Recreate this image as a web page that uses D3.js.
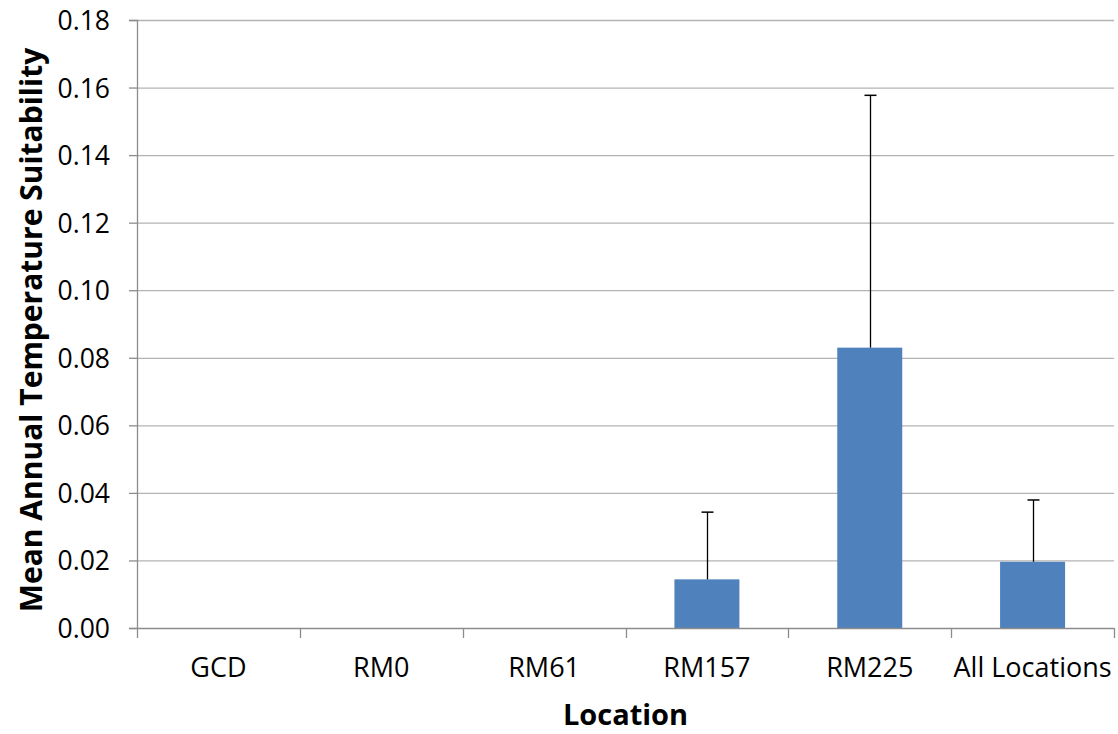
<!DOCTYPE html>
<html><head><meta charset="utf-8">
<script src="https://cdn.jsdelivr.net/npm/d3@7/dist/d3.min.js"></script>
<style>body{margin:0;background:#fff;} svg{display:block;}</style>
</head><body>
<svg id="c" width="1118" height="734"></svg>
<script>
const categories = ["GCD","RM0","RM61","RM157","RM225","All Locations"];
const means = [0, 0, 0, 0.0144, 0.0830, 0.0196];
const upperErr = [0, 0, 0, 0.0199, 0.0747, 0.0183];
const yTicks = [0,0.02,0.04,0.06,0.08,0.10,0.12,0.14,0.16,0.18];

const svg = d3.select("#c");
const m = {l:137, r:1114, t:20, b:628};
const x = d3.scaleBand().domain(categories).range([m.l, m.r]).paddingInner(0).paddingOuter(0);
const y = d3.scaleLinear().domain([0,0.18]).range([m.b, m.t]);
const font = "'Open Sans', sans-serif";

// gridlines
svg.append("g").selectAll("line").data(yTicks.slice(1)).join("line")
  .attr("x1", m.l).attr("x2", m.r).attr("y1", d=>y(d)+0.5).attr("y2", d=>y(d)+0.5)
  .attr("stroke", "#b3b3b3").attr("stroke-width", 1.3);

// bars
const bw = 65;
svg.append("g").selectAll("rect").data(categories).join("rect")
  .attr("x", d=>x(d)+x.bandwidth()/2-bw/2)
  .attr("y", (d,i)=>y(means[i]))
  .attr("width", bw)
  .attr("height", (d,i)=>y(0)-y(means[i]))
  .attr("fill", "#4f81bd");

// error bars
const eb = svg.append("g");
categories.forEach((c,i)=>{
  if (upperErr[i] <= 0) return;
  const cx = Math.round(x(c)+x.bandwidth()/2)+0.5;
  eb.append("line").attr("x1",cx).attr("x2",cx).attr("y1",y(means[i])).attr("y2",y(means[i]+upperErr[i]))
    .attr("stroke","#000").attr("stroke-width",1.3);
  eb.append("line").attr("x1",cx-6).attr("x2",cx+6).attr("y1",y(means[i]+upperErr[i])).attr("y2",y(means[i]+upperErr[i]))
    .attr("stroke","#000").attr("stroke-width",1.5);
});

// y axis
const ya = svg.append("g").attr("transform", `translate(${m.l},0)`)
  .call(d3.axisLeft(y).tickValues(yTicks).tickFormat(d3.format(".2f")).tickSizeOuter(0).tickSize(8));
ya.select(".domain").attr("stroke","#8c8c8c").attr("stroke-width",1.3);
ya.selectAll(".tick line").attr("stroke","#8c8c8c").attr("stroke-width",1.3);
ya.selectAll("text").attr("font-family",font).attr("font-size",26.5).attr("fill","#000").attr("x",-27).attr("dy","0.36em");

// x axis
const xa = svg.append("g").attr("transform", `translate(0,${m.b})`)
  .call(d3.axisBottom(x).tickSize(0).tickSizeOuter(0));
xa.select(".domain").attr("stroke","#8c8c8c").attr("stroke-width",1.3).attr("d", `M${m.l},0.5H${m.r}`);
xa.selectAll("text").attr("font-family",font).attr("font-size",27).attr("fill","#000").attr("y",30).attr("dy","0.71em");
// category boundary ticks
const bounds = categories.map(c=>x(c)).concat([x(categories[categories.length-1])+x.bandwidth()]);
xa.append("g").selectAll("line").data(bounds).join("line")
  .attr("x1",d=>Math.round(d)+0.5).attr("x2",d=>Math.round(d)+0.5).attr("y1",0).attr("y2",10)
  .attr("stroke","#8c8c8c").attr("stroke-width",1.3);

// titles
svg.append("text").attr("x", (m.l+m.r)/2).attr("y", 725)
  .attr("text-anchor","middle").attr("font-family",font).attr("font-weight","bold").attr("font-size",29)
  .text("Location");
svg.append("text").attr("transform", `translate(42,${(m.t+m.b)/2+6}) rotate(-90)`)
  .attr("text-anchor","middle").attr("font-family",font).attr("font-weight","bold").attr("font-size",30)
  .text("Mean Annual Temperature Suitability");
</script>
</body></html>
